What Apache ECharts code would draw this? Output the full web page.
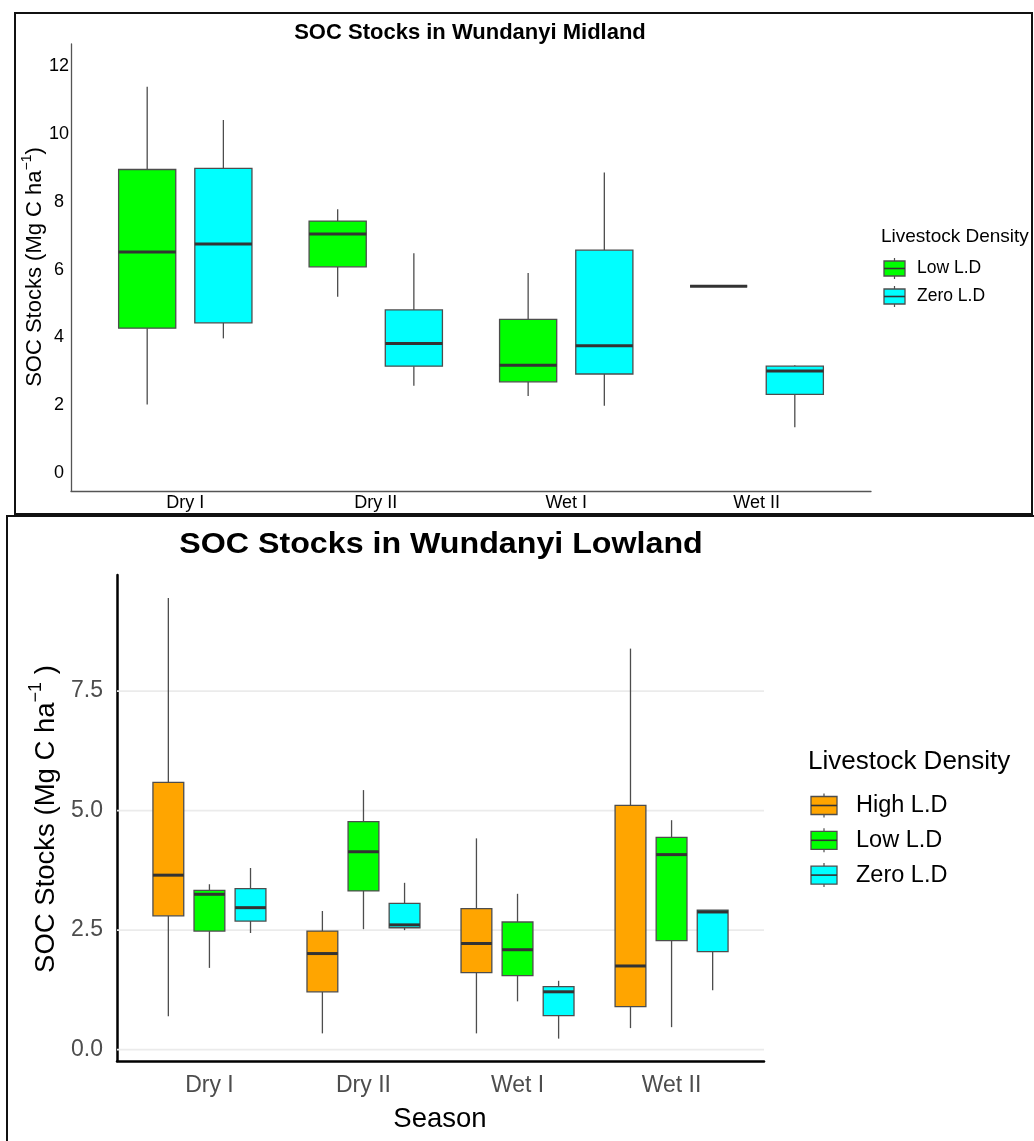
<!DOCTYPE html>
<html><head><meta charset="utf-8">
<script src="https://cdn.jsdelivr.net/npm/echarts@6/dist/echarts.min.js"></script>
<style>html,body{margin:0;padding:0;background:#fff}#c{width:1034px;height:1141px}</style>
</head><body><div id="c"></div>
<script>
// ---- data ----
const seasons = ['Dry I', 'Dry II', 'Wet I', 'Wet II'];
// five-number summaries per season: [lower whisker, Q1, median, Q3, upper whisker]
const midLowLD = [
  [2.02, 4.27, 6.52, 8.95, 11.39],
  [5.20, 6.08, 7.05, 7.43, 7.78],
  [2.27, 2.69, 3.18, 4.53, 5.90],
  [5.51, 5.51, 5.51, 5.51, 5.51]
];
const midZeroLD = [
  [3.97, 4.43, 6.75, 8.98, 10.41],
  [2.57, 3.15, 3.82, 4.81, 6.48],
  [1.98, 2.92, 3.75, 6.57, 8.86],
  [1.35, 2.32, 3.01, 3.15, 3.18]
];
const lowHighLD = [
  [0.70, 2.80, 3.65, 5.59, 9.45],
  [0.34, 1.21, 2.01, 2.48, 2.90],
  [0.34, 1.61, 2.22, 2.95, 4.42],
  [0.45, 0.90, 1.75, 5.11, 8.39]
];
const lowLowLD = [
  [1.71, 2.48, 3.25, 3.33, 3.46],
  [2.52, 3.32, 4.14, 4.77, 5.43],
  [1.01, 1.55, 2.09, 2.67, 3.26],
  [0.47, 2.28, 4.08, 4.44, 4.80]
];
const lowZeroLD = [
  [2.44, 2.69, 2.97, 3.37, 3.80],
  [2.50, 2.55, 2.61, 3.06, 3.49],
  [0.23, 0.71, 1.21, 1.32, 1.44],
  [1.24, 2.05, 2.88, 2.92, 2.92]
];
const midTicks = [0, 2, 4, 6, 8, 10, 12];
const lowTicks = [0, 2.5, 5, 7.5];
const midGroups = ['Low L.D', 'Zero L.D'];
const lowGroups = ['High L.D', 'Low L.D', 'Zero L.D'];

// ---- styling ----
const COL = { 'High L.D': '#FFA500', 'Low L.D': '#00FF00', 'Zero L.D': '#00FFFF' };
const FONT = 'Liberation Sans, Arial, sans-serif';
const EDGE = '#4d4d4d';

function toData(arr) { return arr.map((s, i) => [i + 1].concat(s)); }

function boxRenderer(offset, halfW) {
  return function (params, api) {
    const x = api.value(0) + offset;
    const pLo = api.coord([x, api.value(1)]);
    const pQ1 = api.coord([x, api.value(2)]);
    const pMed = api.coord([x, api.value(3)]);
    const pQ3 = api.coord([x, api.value(4)]);
    const pHi = api.coord([x, api.value(5)]);
    const left = api.coord([x - halfW, api.value(3)])[0];
    const right = api.coord([x + halfW, api.value(3)])[0];
    const color = api.visual('color');
    const ws = { stroke: EDGE, lineWidth: 1.3 };
    return {
      type: 'group', children: [
        { type: 'line', shape: { x1: pLo[0], y1: pLo[1], x2: pQ1[0], y2: pQ1[1] }, style: ws },
        { type: 'line', shape: { x1: pQ3[0], y1: pQ3[1], x2: pHi[0], y2: pHi[1] }, style: ws },
        { type: 'rect', shape: { x: left, y: pQ3[1], width: right - left, height: pQ1[1] - pQ3[1] },
          style: { fill: color, stroke: EDGE, lineWidth: 1.3 } },
        { type: 'line', shape: { x1: left, y1: pMed[1], x2: right, y2: pMed[1] },
          style: { stroke: '#333333', lineWidth: 3 } }
      ]
    };
  };
}

function boxSeries(name, arr, gi, offset, halfW) {
  return {
    type: 'custom', name: name, xAxisIndex: gi, yAxisIndex: gi,
    data: toData(arr), itemStyle: { color: COL[name] },
    encode: { x: 0, y: [1, 2, 3, 4, 5] },
    renderItem: boxRenderer(offset, halfW), z: 3, silent: true
  };
}

function isInt(v) { return Math.abs(v - Math.round(v)) < 1e-6; }

function legendKeys(groups, x, w, h, cy0, step, tx, fs, sx) {
  const out = [];
  groups.forEach((g, i) => {
    const cy = cy0 + i * step;
    out.push({ type: 'line', shape: { x1: x + w / 2, y1: cy - h / 2 - 3, x2: x + w / 2, y2: cy + h / 2 + 3 },
      style: { stroke: EDGE, lineWidth: 1.2 } });
    out.push({ type: 'rect', shape: { x: x, y: cy - h / 2, width: w, height: h },
      style: { fill: COL[g], stroke: EDGE, lineWidth: 1.3 } });
    out.push({ type: 'line', shape: { x1: x, y1: cy, x2: x + w, y2: cy },
      style: { stroke: '#333333', lineWidth: 1.6 } });
    out.push({ type: 'text', x: tx, y: cy, scaleX: sx || 1,
      style: { text: g, fontFamily: FONT, fontSize: fs, fill: '#000', align: 'left', verticalAlign: 'middle' } });
  });
  return out;
}

const chart = echarts.init(document.getElementById('c'), null, { renderer: 'canvas' });

const option = {
  animation: false,
  backgroundColor: '#ffffff',
  grid: [
    { left: 71, top: 44, width: 800, height: 447 },
    { left: 117, top: 575, width: 647, height: 486 }
  ],
  xAxis: [
    { gridIndex: 0, type: 'value', min: 0.4, max: 4.6,
      splitLine: { show: false }, axisTick: { show: false },
      axisLine: { show: true, onZero: false, lineStyle: { color: '#555555', width: 1.3 } },
      axisLabel: { customValues: [1, 2, 3, 4], margin: 3, fontSize: 18, fontFamily: FONT, color: '#000',
        formatter: v => (isInt(v) && v >= 1 && v <= 4) ? seasons[Math.round(v) - 1] : '' } },
    { gridIndex: 1, type: 'value', min: 0.4, max: 4.6,
      splitLine: { show: false }, axisTick: { show: false },
      axisLine: { show: true, onZero: false, lineStyle: { color: '#000', width: 2.5 } },
      axisLabel: { customValues: [1, 2, 3, 4], margin: 13, fontSize: 23, fontFamily: FONT, color: '#4d4d4d',
        formatter: v => (isInt(v) && v >= 1 && v <= 4) ? seasons[Math.round(v) - 1] : '' } }
  ],
  yAxis: [
    { gridIndex: 0, type: 'value', min: -0.53, max: 12.65, splitNumber: 6,
      splitLine: { show: false }, axisTick: { show: false },
      axisLine: { show: true, onZero: false, lineStyle: { color: '#555555', width: 1.3 } },
      axisLabel: { customValues: midTicks, margin: 12, align: 'center', fontSize: 18, fontFamily: FONT, color: '#000',
        formatter: v => midTicks.some(t => Math.abs(t - v) < 1e-6) ? String(Math.round(v)) : '' } },
    { gridIndex: 1, type: 'value', min: -0.238, max: 9.93, splitNumber: 4,
      splitLine: { show: false }, axisTick: { show: false },
      axisLine: { show: true, onZero: false, lineStyle: { color: '#000', width: 2.5 } },
      axisLabel: { customValues: lowTicks, margin: 14, fontSize: 23, fontFamily: FONT, color: '#4d4d4d',
        formatter: v => lowTicks.some(t => Math.abs(t - v) < 1e-6) ? v.toFixed(1) : '' } }
  ],
  series: [
    {
      type: 'custom', name: 'grid', xAxisIndex: 1, yAxisIndex: 1, silent: true, z: 1,
      data: lowTicks.map(v => [v]), encode: { y: 0 },
      renderItem: function (params, api) {
        const cs = params.coordSys;
        const y = api.coord([1, api.value(0)])[1];
        return { type: 'line', shape: { x1: cs.x, y1: y, x2: cs.x + cs.width, y2: y },
          style: { stroke: '#EBEBEB', lineWidth: 1.8 } };
      }
    },
    boxSeries('Low L.D', midLowLD, 0, -0.2, 0.15),
    boxSeries('Zero L.D', midZeroLD, 0, 0.2, 0.15),
    boxSeries('High L.D', lowHighLD, 1, -0.2667, 0.1),
    boxSeries('Low L.D', lowLowLD, 1, 0, 0.1),
    boxSeries('Zero L.D', lowZeroLD, 1, 0.2667, 0.1)
  ],
  graphic: [
    // panel borders
    { type: 'rect', shape: { x: 15, y: 13, width: 1017, height: 501 }, style: { fill: null, stroke: '#111', lineWidth: 2 }, z: 10 },
    { type: 'polyline', shape: { points: [[7, 1145], [7, 516], [1040, 516]] }, style: { fill: null, stroke: '#111', lineWidth: 2 }, z: 10 },
    // top panel texts
    { type: 'text', x: 470, y: 33, style: { text: 'SOC Stocks in Wundanyi Midland', fontFamily: FONT, fontWeight: 'bold', fontSize: 22, fill: '#000', align: 'center', verticalAlign: 'middle' } },
    { type: 'text', x: 35, y: 267, rotation: Math.PI / 2,
      style: { text: 'SOC Stocks (Mg C ha{sup|\u22121})', fontFamily: FONT, fontSize: 22, fill: '#000', align: 'center', verticalAlign: 'middle', lineHeight: 30,
        rich: { sup: { fontFamily: FONT, fontSize: 14, verticalAlign: 'top', lineHeight: 30, fill: '#000' } } } },
    { type: 'text', x: 881, y: 237, style: { text: 'Livestock Density', fontFamily: FONT, fontSize: 19, fill: '#000', align: 'left', verticalAlign: 'middle' } },
    ...legendKeys(midGroups, 884, 21, 15, 268.5, 28, 917, 17.5),
    // bottom panel texts
    { type: 'text', x: 441, y: 545, scaleX: 1.11, style: { text: 'SOC Stocks in Wundanyi Lowland', fontFamily: FONT, fontWeight: 'bold', fontSize: 29, fill: '#000', align: 'center', verticalAlign: 'middle' } },
    { type: 'text', x: 46, y: 819, rotation: Math.PI / 2,
      style: { text: 'SOC Stocks (Mg C ha{sup|\u22121} )', fontFamily: FONT, fontSize: 27.5, fill: '#000', align: 'center', verticalAlign: 'middle', lineHeight: 38,
        rich: { sup: { fontFamily: FONT, fontSize: 18, verticalAlign: 'top', lineHeight: 38, fill: '#000' } } } },
    { type: 'text', x: 440, y: 1119, style: { text: 'Season', fontFamily: FONT, fontSize: 27.5, fill: '#000', align: 'center', verticalAlign: 'middle' } },
    { type: 'text', x: 808, y: 762, style: { text: 'Livestock Density', fontFamily: FONT, fontSize: 26, fill: '#000', align: 'left', verticalAlign: 'middle' } },
    ...legendKeys(lowGroups, 811, 26, 18, 805.5, 34.8, 856, 23.5)
  ]
};
chart.setOption(option);
</script>
</body></html>
